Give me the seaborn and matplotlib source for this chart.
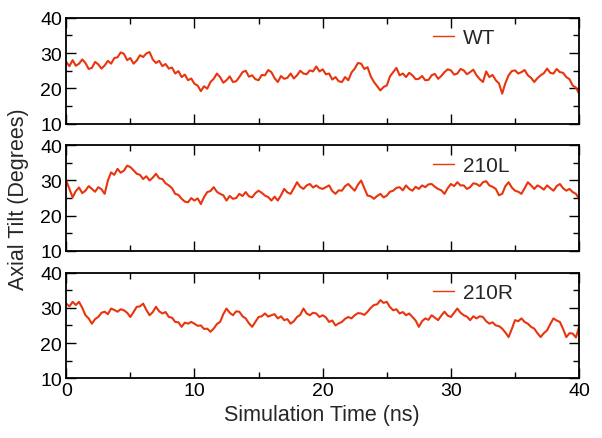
import numpy as np
import pandas as pd
import matplotlib
matplotlib.use("Agg")
import matplotlib.pyplot as plt
import seaborn as sns

# axial tilt (degrees) read every 0.25 ns from the picture
labels = ["WT", "210L", "210R"]

wt = [27.5, 26.3, 28.0, 26.4, 27.0, 28.2, 27.2, 25.5, 25.8, 27.5, 26.8, 25.6, 26.5, 27.8, 27.0, 28.6,
      28.8, 30.2, 29.8, 28.0, 28.6, 27.0, 27.9, 29.4, 28.9, 29.9, 30.3, 28.2, 27.2, 27.8, 26.3, 26.9,
      25.6, 25.9, 24.2, 24.9, 23.2, 23.9, 22.3, 22.8, 21.3, 20.8, 19.2, 20.6, 19.9, 21.8, 22.7, 24.2,
      23.2, 21.6, 22.3, 23.4, 21.8, 22.0, 23.2, 24.6, 25.0, 23.3, 23.7, 22.6, 22.3, 23.8, 23.7, 25.2,
      24.6, 22.9, 21.8, 23.5, 22.7, 23.0, 24.2, 22.8, 23.7, 25.0, 24.2, 24.0, 25.1, 24.8, 26.2, 24.8,
      25.4, 24.0, 24.2, 22.5, 23.2, 22.0, 21.8, 23.2, 22.3, 24.5, 25.6, 27.2, 27.0, 25.5, 26.0, 23.4,
      21.8, 20.6, 19.4, 20.4, 20.8, 23.4, 24.6, 25.8, 23.7, 24.2, 23.2, 24.4, 23.7, 22.6, 22.7, 23.5,
      22.3, 22.4, 23.7, 24.1, 22.7, 23.5, 24.6, 25.4, 25.1, 23.9, 24.2, 25.5, 25.1, 24.0, 24.6, 25.3,
      23.7, 22.6, 21.8, 24.8, 23.2, 23.8, 22.3, 21.4, 18.5, 21.5, 23.7, 24.9, 25.1, 24.2, 24.6, 25.2,
      23.7, 23.0, 21.8, 22.9, 23.7, 24.3, 25.6, 24.4, 24.2, 25.5, 24.6, 24.4, 23.2, 22.6, 20.8, 20.2,
      18.5]

mut_210l = [30.0, 27.6, 25.2, 27.0, 28.0, 26.4, 27.1, 28.4, 27.6, 26.8, 28.1, 27.5, 26.2, 30.0, 32.3, 31.6,
            33.3, 32.2, 32.8, 34.2, 33.8, 32.9, 31.9, 31.6, 30.4, 31.2, 30.0, 30.8, 31.9, 30.6, 30.4, 29.2,
            28.6, 27.8, 26.2, 25.9, 24.8, 24.0, 23.8, 25.0, 24.3, 24.9, 23.3, 25.3, 26.7, 27.0, 28.1, 26.8,
            26.2, 25.8, 24.3, 25.6, 24.8, 25.0, 26.2, 25.6, 26.7, 25.5, 25.2, 26.4, 27.1, 26.5, 25.7, 25.3,
            24.3, 25.4, 24.3, 25.8, 27.6, 26.6, 26.2, 27.8, 29.5, 28.2, 27.6, 28.6, 29.0, 28.0, 28.6, 27.9,
            27.6, 28.1, 28.6, 27.0, 26.2, 27.2, 27.1, 28.4, 29.0, 28.0, 27.1, 28.8, 30.0, 27.8, 25.7, 25.5,
            24.8, 25.6, 26.2, 25.2, 25.7, 26.8, 27.1, 27.9, 28.1, 27.2, 28.6, 27.6, 27.1, 28.2, 27.6, 28.6,
            28.1, 28.9, 29.0, 28.2, 27.6, 27.2, 26.2, 27.8, 29.0, 28.4, 29.5, 28.6, 28.6, 27.6, 28.1, 29.2,
            29.0, 28.4, 29.5, 29.8, 28.6, 28.2, 27.6, 25.8, 26.2, 28.4, 29.5, 28.0, 27.1, 26.8, 26.2, 27.8,
            29.5, 28.6, 27.6, 28.6, 28.1, 27.4, 28.6, 27.8, 27.1, 28.4, 29.0, 27.8, 27.1, 27.6, 26.7, 26.2,
            24.8]

mut_210r = [31.2, 30.4, 31.7, 30.8, 31.7, 30.0, 27.9, 27.0, 25.5, 26.8, 27.4, 28.6, 28.9, 28.2, 29.8, 29.4,
            28.9, 29.6, 29.3, 28.6, 27.4, 28.8, 30.3, 30.4, 31.2, 29.4, 27.9, 28.8, 30.3, 29.0, 28.4, 28.8,
            27.4, 27.2, 26.0, 25.9, 24.6, 25.8, 25.5, 26.0, 25.5, 24.9, 25.0, 24.0, 24.1, 23.2, 24.1, 25.4,
            26.0, 28.2, 29.8, 28.6, 27.9, 29.0, 28.9, 27.6, 27.0, 25.6, 24.6, 26.0, 27.4, 27.6, 28.4, 27.5,
            27.9, 28.2, 27.0, 27.6, 26.5, 26.8, 25.5, 26.2, 27.4, 28.0, 29.8, 28.4, 27.9, 28.6, 28.4, 27.4,
            27.9, 27.3, 26.0, 26.4, 25.0, 25.6, 26.0, 26.9, 27.4, 27.0, 27.9, 28.5, 28.4, 28.0, 28.9, 30.0,
            30.8, 31.0, 32.2, 31.4, 31.7, 30.2, 29.3, 29.6, 28.4, 28.8, 27.9, 28.4, 27.4, 26.4, 24.6, 26.2,
            27.0, 26.6, 27.9, 27.2, 26.5, 27.8, 28.9, 27.8, 27.4, 28.6, 29.8, 28.6, 27.9, 27.5, 26.5, 27.6,
            27.0, 27.6, 27.4, 26.2, 25.5, 25.9, 25.0, 24.8, 24.1, 23.0, 21.7, 24.0, 26.5, 26.2, 27.0, 26.0,
            25.5, 24.6, 24.1, 22.8, 21.7, 22.8, 23.6, 25.4, 27.0, 26.4, 26.0, 24.0, 21.7, 22.8, 22.7, 21.6,
            24.6]

series = [wt, mut_210l, mut_210r]

sns.set_style("ticks")
plt.rcParams["font.family"] = ["Liberation Sans", "DejaVu Sans"]

fig, axes = plt.subplots(3, 1, figsize=(6.02, 4.39), dpi=100, sharex=True)
fig.subplots_adjust(left=0.110, right=0.962, top=0.957, bottom=0.136, hspace=0.205)

line_color = "#e8350e"

for ax, name, vals in zip(axes, labels, series):
    df = pd.DataFrame({"time": np.linspace(0, 40, len(vals)), "tilt": vals})
    sns.lineplot(data=df, x="time", y="tilt", ax=ax, color=line_color,
                 linewidth=1.5, estimator=None, label=name)

    ax.set_xlim(0, 40)
    ax.set_ylim(10, 40)
    ax.set_xticks([0, 10, 20, 30, 40])
    ax.set_xticks([5, 15, 25, 35], minor=True)
    ax.set_yticks([10, 20, 30, 40])
    ax.set_yticks([15, 25, 35], minor=True)
    ax.tick_params(which="both", direction="in", top=True, right=True,
                   width=1.0, colors="black", labelsize=14, pad=3)
    ax.tick_params(which="major", length=7)
    ax.tick_params(which="minor", length=4)
    for sp in ax.spines.values():
        sp.set_visible(True)
        sp.set_linewidth(1.3)
        sp.set_color("black")
    ax.set_xlabel("")
    ax.set_ylabel("")

    leg = ax.legend(loc="center left", bbox_to_anchor=(0.715, 0.81), frameon=False,
                    fontsize=15, handlelength=1.0, handletextpad=0.45,
                    borderpad=0, borderaxespad=0)
    for h in leg.get_lines():
        h.set_linewidth(1.0)

fig.text(0.534, 0.054, "Simulation Time (ns)", ha="center", va="center", fontsize=15.5)
fig.text(0.031, 0.547, "Axial Tilt (Degrees)", ha="center", va="center",
         rotation=90, fontsize=15.5)

fig.savefig("out.png", dpi=100)
